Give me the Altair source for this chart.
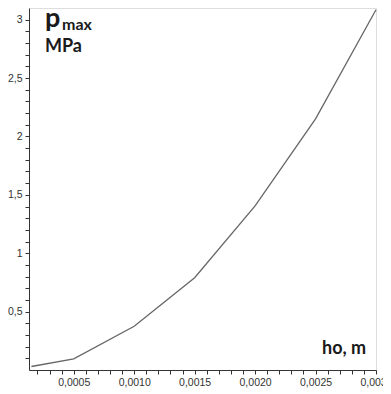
import altair as alt
import pandas as pd

# data
h_values = [0.00015, 0.0005, 0.0010, 0.0015, 0.0020, 0.0025, 0.0030]
p_values = [0.03, 0.095, 0.375, 0.79, 1.405, 2.15, 3.085]

x_ticks = [round(0.0002 + i * 0.0001, 4) for i in range(29)]
y_ticks = [round(0.1 * i, 1) for i in range(1, 31)]

y_title_main = ["p", "max", "MPa"]
x_title = "ho, m"

df = pd.DataFrame({"h": h_values, "p": p_values})

W, H = 347, 362
font = "Lato"
axis_col = "#333333"

line = alt.Chart(df).mark_line(color="#666666", strokeWidth=1.3).encode(
    x=alt.X(
        "h:Q",
        scale=alt.Scale(domain=[0.00013, 0.0030], nice=False, zero=False),
        axis=alt.Axis(
            values=x_ticks,
            title=None,
            grid=False,
            domainColor=axis_col,
            tickColor=axis_col,
            tickSize=4,
            labelFont="Liberation Sans",
            labelFontSize=10.5,
            labelColor="#333333",
            labelOverlap=False,
            labelFlush=False,
            labelPadding=3,
            labelExpr="(round(datum.value*10000) % 5 == 0) ? replace(format(datum.value, '.4f'), '.', ',') : ''",
        ),
    ),
    y=alt.Y(
        "p:Q",
        scale=alt.Scale(domain=[0, 3.1], nice=False, zero=False),
        axis=alt.Axis(
            values=y_ticks,
            title=None,
            grid=False,
            domainColor=axis_col,
            tickColor=axis_col,
            tickSize=4,
            labelFont="Liberation Sans",
            labelFontSize=10.5,
            labelColor="#333333",
            labelOverlap=False,
            labelFlush=False,
            labelPadding=3,
            labelExpr="(abs(datum.value*2 - round(datum.value*2)) < 1e-6) ? (abs(datum.value - round(datum.value)) < 1e-6 ? format(datum.value, 'd') : replace(format(datum.value, '.1f'), '.', ',')) : ''",
        ),
    ),
)


def label(text, x, y, size):
    return alt.Chart(pd.DataFrame({"t": [text]})).mark_text(
        font=font, fontWeight="bold", fontSize=size, color="#1a1a1a",
        align="left", baseline="alphabetic",
    ).encode(text="t:N", x=alt.value(x), y=alt.value(y))


layers = [
    line,
    label(y_title_main[0], 16, 19, 27),
    label(y_title_main[1], 33, 22, 16),
    label(y_title_main[2], 16, 44, 18),
    label(x_title, 293, 346, 18),
]

chart = alt.layer(*layers).properties(
    width=W,
    height=H,
    autosize=alt.AutoSizeParams(type="none"),
    padding={"left": 21, "top": 0, "right": 7, "bottom": 20},
).configure_view(stroke=None).configure(background="white")

chart.save("out.html", embed_options={"renderer": "svg", "actions": False})
